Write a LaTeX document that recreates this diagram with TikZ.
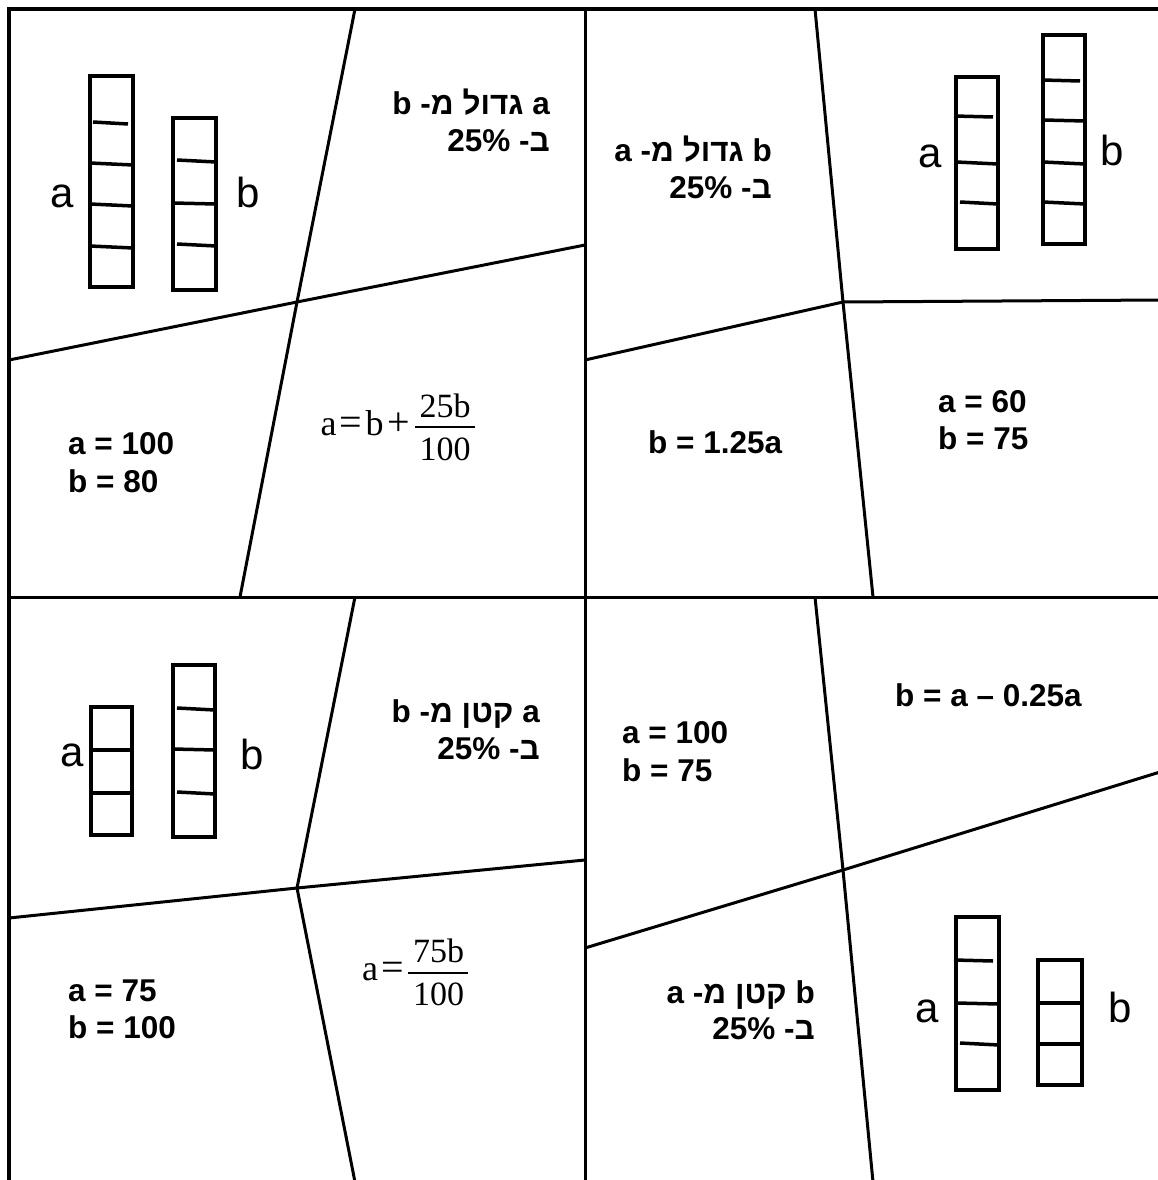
\documentclass[tikz,border=0pt]{standalone}
\usepackage{fontspec}
\setmainfont{Liberation Sans}
\newfontfamily\hebfont[Script=Hebrew]{Liberation Sans}
\newfontfamily\tnr{Liberation Serif}
\TeXXeTstate=1
\begin{document}
\begin{tikzpicture}[x=1pt,y=-1pt,
  frame/.style={line width=4pt},
  cut/.style={line width=3pt},
  bar/.style={line width=3.5pt},
  lbl/.style={inner sep=0pt, anchor=base, font=\fontsize{42}{48}\selectfont},
  bt/.style={inner sep=0pt, anchor=base west, font=\bfseries\fontsize{31.5}{37}\selectfont},
  ht/.style={inner sep=0pt, anchor=base east, font=\hebfont\bfseries\fontsize{31.5}{37}\selectfont},
  fv/.style={inner sep=0pt, anchor=base, font=\tnr\fontsize{36}{40}\selectfont},
  fo/.style={inner sep=0pt, anchor=base, font=\tnr\fontsize{40}{44}\selectfont},
  fn/.style={inner sep=0pt, anchor=base, font=\tnr\fontsize{34}{40}\selectfont},
  fbar/.style={line width=1.8pt}]
\useasboundingbox (0,0) rectangle (1158,1180);
\fill[white] (0,0) rectangle (1158,1180);
% frame and quadrant dividers
\coordinate (bl) at (9,1182);
\coordinate (tl) at (9,9);
\coordinate (tr) at (1160,9);
\draw[frame] (bl) -- (tl) -- (tr);
\coordinate (mt) at (585,9);
\coordinate (mb) at (585,1182);
\coordinate (ml) at (9,597);
\coordinate (mr) at (1160,597);
\draw[cut] (mt) -- (mb);
\draw[cut] (ml) -- (mr);
% top-left cuts
\coordinate (c1) at (297,302);
\draw[cut] (355,9) -- (c1) -- (240,597);
\draw[cut] (9,360) -- (c1) -- (585,245);
% top-right cuts
\coordinate (c2) at (843,302);
\draw[cut] (815,9) -- (c2) -- (873,597);
\draw[cut] (585,360) -- (c2) -- (1160,300);
% bottom-left cuts
\coordinate (c3) at (297,888);
\draw[cut] (355,597) -- (c3) -- (355,1182);
\draw[cut] (9,918) -- (c3) -- (585,860);
% bottom-right cuts
\coordinate (c4) at (843,870);
\draw[cut] (815,597) -- (c4) -- (873,1182);
\draw[cut] (585,948) -- (c4) -- (1160,772);

% ---- bars top-left
\draw[bar] (90,76) rectangle (133,287);
\draw[bar] (93,122) -- (128,124);
\draw[bar] (90,163) -- (133,165);
\draw[bar] (90,204) -- (133,206);
\draw[bar] (90,246) -- (133,248);
\draw[bar] (173,118) rectangle (216,290);
\draw[bar] (177,160) -- (216,162);
\draw[bar] (173,203) -- (216,204);
\draw[bar] (177,244) -- (216,246);
\node[lbl] (la1) at (62,207) {a};
\node[lbl] (lb1) at (248,207) {b};

% ---- bars top-right
\draw[bar] (956,77) rectangle (998,249);
\draw[bar] (954,116) -- (993,117);
\draw[bar] (956,162) -- (998,164);
\draw[bar] (960,202) -- (998,204);
\draw[bar] (1043,35) rectangle (1085,244);
\draw[bar] (1042,80) -- (1080,81);
\draw[bar] (1043,120) -- (1085,121);
\draw[bar] (1043,162) -- (1085,164);
\draw[bar] (1043,202) -- (1085,204);
\node[lbl] (la2) at (930,167) {a};
\node[lbl] (lb2) at (1112,165) {b};

% ---- bars bottom-left
\draw[bar] (91,707) rectangle (132,835);
\draw[bar] (91,750) -- (132,750);
\draw[bar] (91,793) -- (132,793);
\draw[bar] (173,665) rectangle (215,837);
\draw[bar] (177,708) -- (215,710);
\draw[bar] (173,749) -- (215,750);
\draw[bar] (177,792) -- (215,794);
\node[lbl] (la3) at (72,766) {a};
\node[lbl] (lb3) at (252,769) {b};

% ---- bars bottom-right
\draw[bar] (956,917) rectangle (999,1090);
\draw[bar] (954,960) -- (993,961);
\draw[bar] (956,1003) -- (999,1004);
\draw[bar] (960,1043) -- (999,1045);
\draw[bar] (1038,960) rectangle (1082,1085);
\draw[bar] (1038,1003) -- (1082,1003);
\draw[bar] (1038,1044) -- (1082,1044);
\node[lbl] (la4) at (927,1022) {a};
\node[lbl] (lb4) at (1120,1022) {b};

% ---- Hebrew statements
\node[ht] (h1a) at (550,115) {\beginR a גדול מ- b\endR};
\node[ht] (h1b) at (550,151) {\beginR ב- \beginL 25\%\endL\endR};
\node[ht] (h2a) at (772,161) {\beginR b גדול מ- a\endR};
\node[ht] (h2b) at (772,198) {\beginR ב- \beginL 25\%\endL\endR};
\node[ht] (h3a) at (540,722) {\beginR a קטן מ- b\endR};
\node[ht] (h3b) at (540,759) {\beginR ב- \beginL 25\%\endL\endR};
\node[ht] (h4a) at (815,1003) {\beginR b קטן מ- a\endR};
\node[ht] (h4b) at (815,1039) {\beginR ב- \beginL 25\%\endL\endR};

% ---- values
\node[bt] (v1a) at (68,454) {a = 100};
\node[bt] (v1b) at (68,492) {b = 80};
\node[bt] (v2) at (648,453) {b = 1.25a};
\node[bt] (v3a) at (938,412) {a = 60};
\node[bt] (v3b) at (938,449) {b = 75};
\node[bt] (v4a) at (622,743) {a = 100};
\node[bt] (v4b) at (622,781) {b = 75};
\node[bt] (v5) at (895,706) {b = a – 0.25a};
\node[bt] (v6a) at (68,1001) {a = 75};
\node[bt] (v6b) at (68,1038) {b = 100};

% ---- formula 1: a = b + 25b/100
\node[fv] (f1a) at (328.5,435) {a};
\node[fo] (f1eq) at (351,435) {=};
\node[fv] (f1b) at (374.5,435) {b};
\node[fo] (f1pl) at (399,435) {+};
\node[fn] (f1num) at (445,417) {25b};
\node[fn] (f1den) at (445,460) {100};
\coordinate (f1l) at (415,427);
\coordinate (f1r) at (475,427);
\draw[fbar] (f1l) -- (f1r);

% ---- formula 2: a = 75b/100
\node[fv] (f2a) at (370,980) {a};
\node[fo] (f2eq) at (392.5,980) {=};
\node[fn] (f2num) at (438.5,962) {75b};
\node[fn] (f2den) at (438.5,1005) {100};
\coordinate (f2l) at (408,973);
\coordinate (f2r) at (468,973);
\draw[fbar] (f2l) -- (f2r);
\end{tikzpicture}
\end{document}
